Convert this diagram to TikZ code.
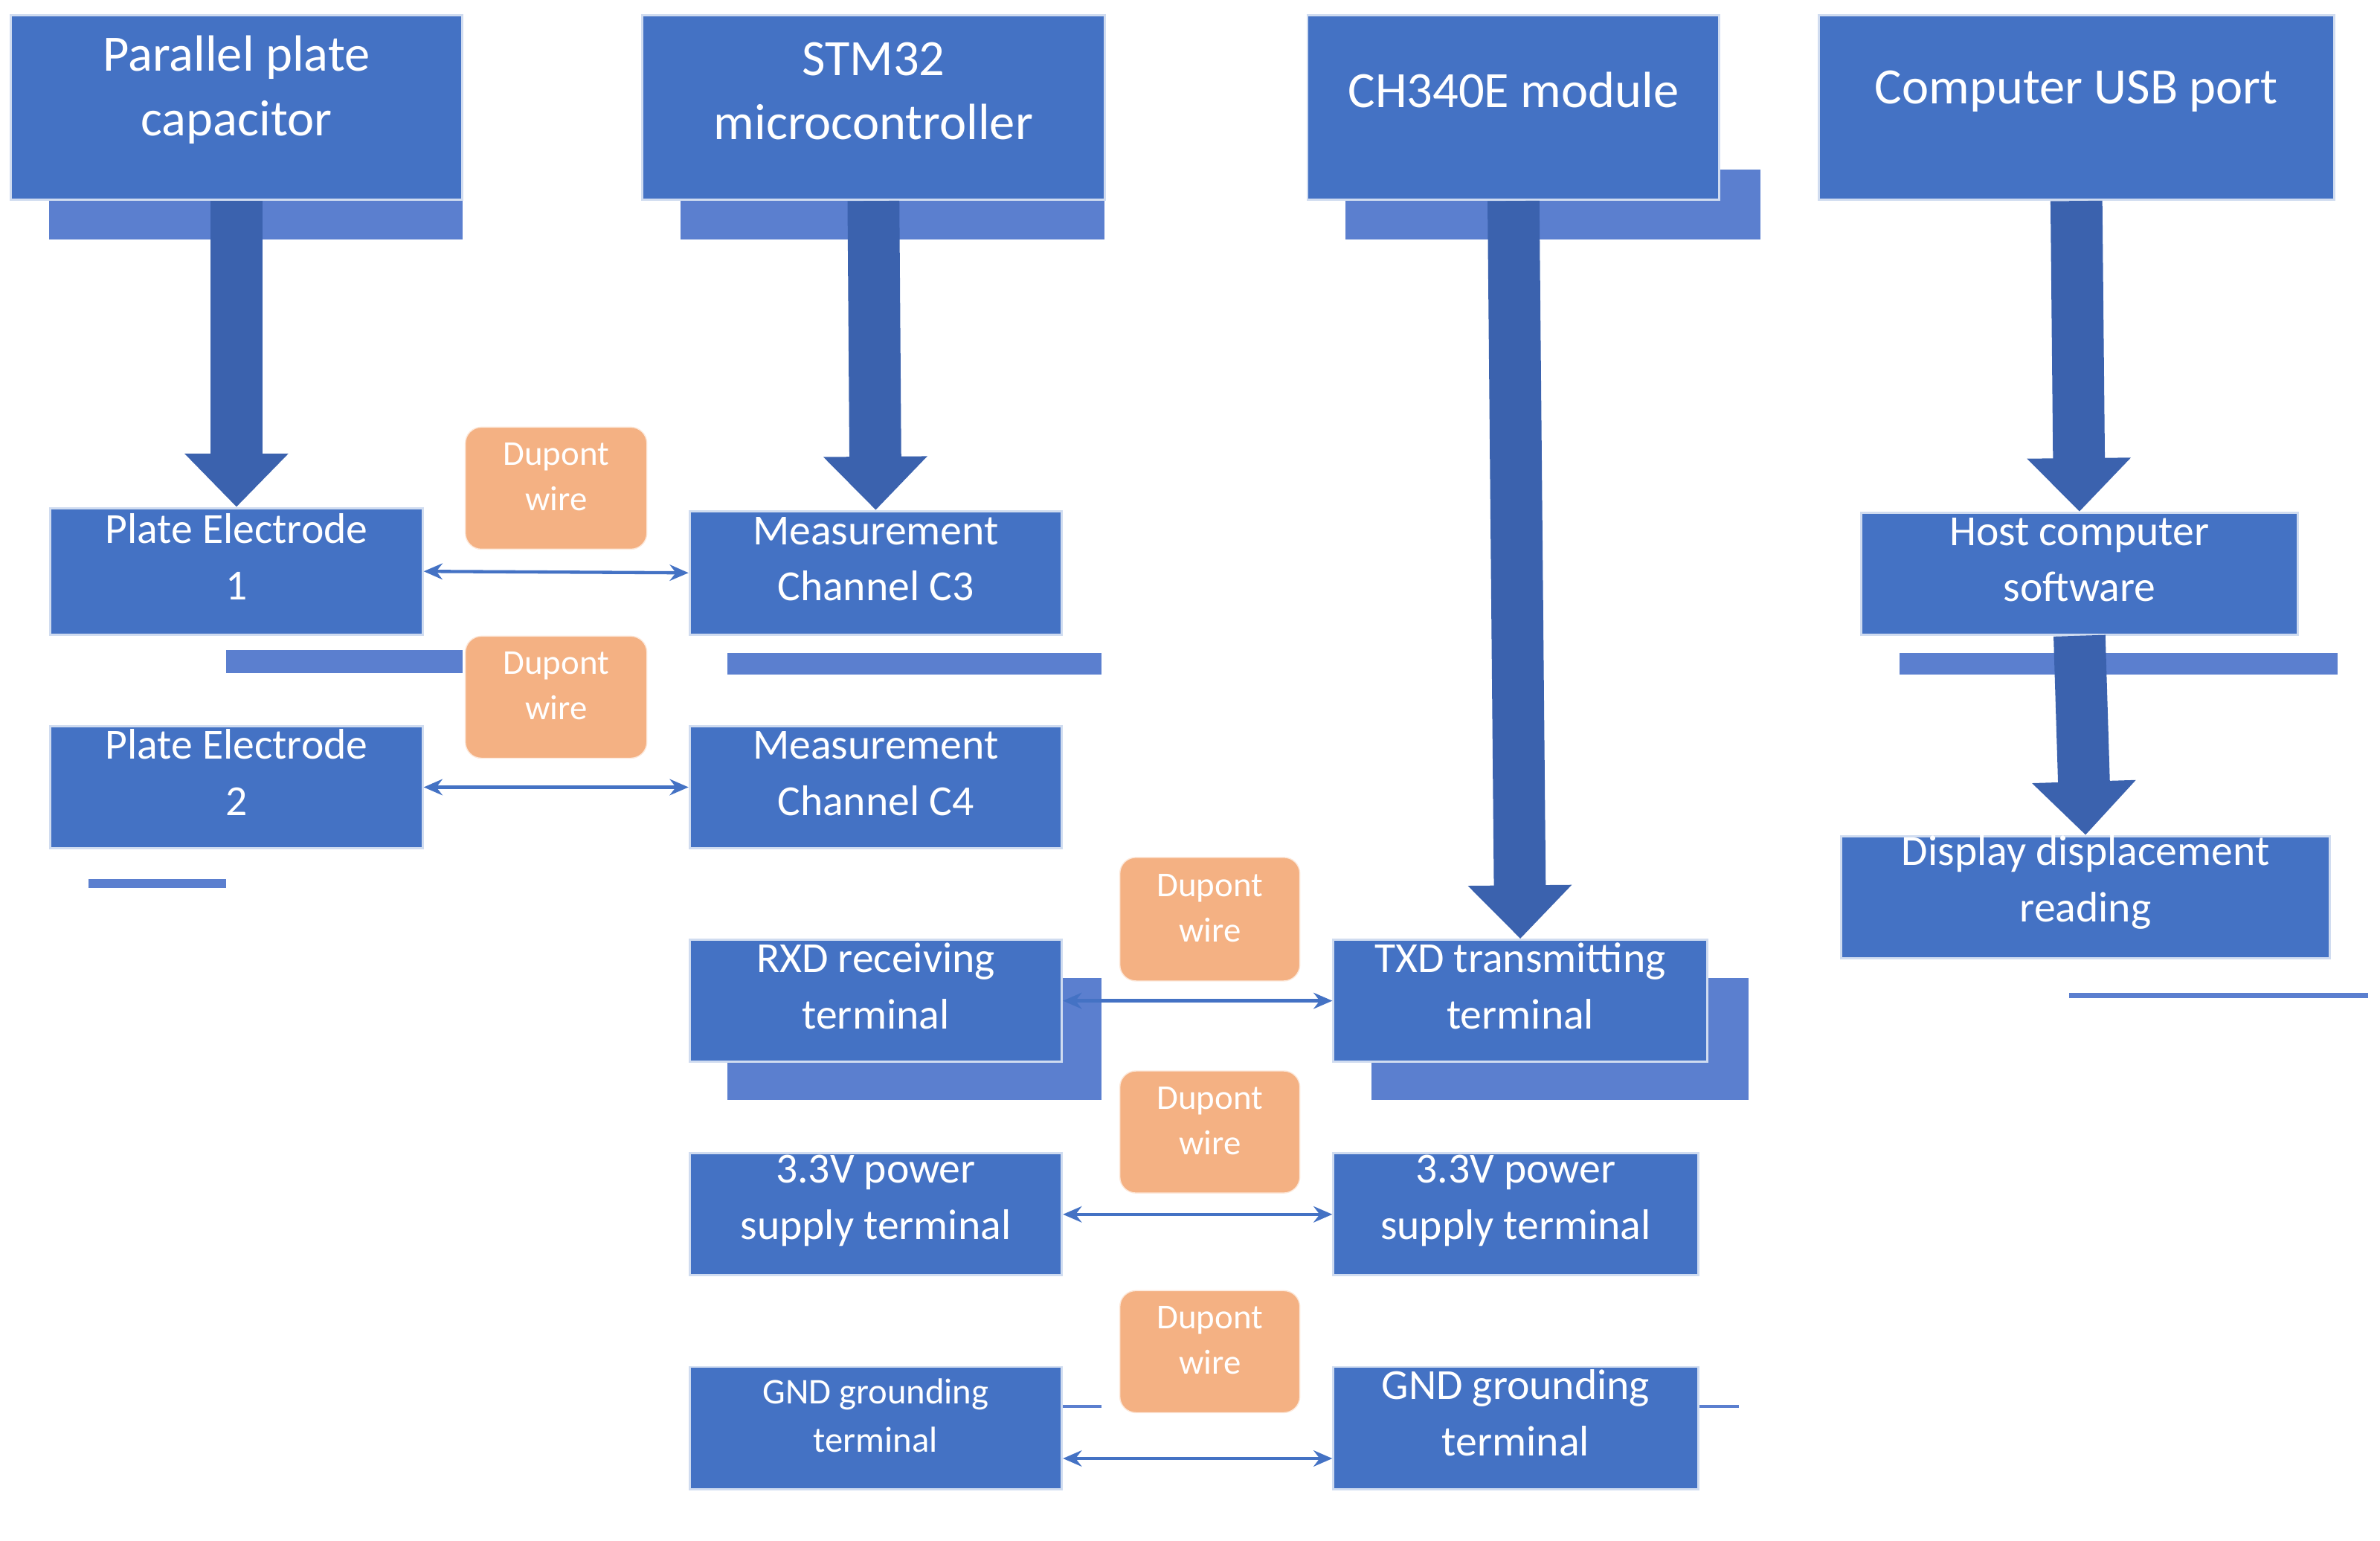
\documentclass[tikz,border=0pt]{standalone}
\usepackage{fontspec}
\setmainfont{Carlito}
\usetikzlibrary{fit,arrows.meta}
\definecolor{boxblue}{HTML}{4472C4}
\definecolor{shadeblue}{HTML}{5B7FCF}
\definecolor{arrblue}{HTML}{3B62AE}
\definecolor{dupont}{HTML}{F4B183}
\begin{document}
\begin{tikzpicture}[x=0.02cm,y=-0.02cm,
  box/.style={fill=boxblue,draw=white!75!boxblue,line width=0.8pt,inner sep=0pt,text=white,align=center},
  big/.style={box,font=\fontsize{19}{24}\selectfont},
  small/.style={box,font=\fontsize{16}{21}\selectfont},
  shade/.style={fill=shadeblue},
  wire/.style={fill=dupont,draw=white!70!dupont,rounded corners=6pt,inner sep=0pt,text=white,align=center,font=\fontsize{13}{17}\selectfont},
  fat/.style={draw=arrblue,line width=0.68cm,-{Triangle[width=1.32cm,length=0.7cm]}},
  link/.style={draw=boxblue,line width=1.2pt,{Stealth[length=7pt,width=6pt]}-{Stealth[length=7pt,width=6pt]}}]
\useasboundingbox (0,0) rectangle (1560,1010);
% shadow strips
\fill[shade] (32,131) rectangle (303,157);
\fill[shade] (446,131) rectangle (724,157);
\fill[shade] (882,111) rectangle (1154,157);
\fill[shade] (148,426) rectangle (303,441);
\fill[shade] (477,428) rectangle (722,442);
\fill[shade] (58,576) rectangle (148,582);
\fill[shade] (1245,428) rectangle (1532,442);
\fill[shade] (1356,651) rectangle (1552,654);
\fill[shade] (477,641) rectangle (722,721);
\fill[shade] (899,641) rectangle (1146,721);
\fill[shade] (696,921) rectangle (722,923);
\fill[shade] (1113,921) rectangle (1140,923);
% top boxes
\node[big,fit={(7,10)(303,131)}] (cap) {Parallel plate\\capacitor};
\node[big,fit={(421,10)(724,131)}] (stm) {STM32\\microcontroller};
\node[big,fit={(857,10)(1127,131)}] (ch) {CH340E module};
\node[big,fit={(1192,10)(1530,131)}] (usb) {Computer USB port};
% lower boxes
\node[small,fit={(33,333)(277,416)}] (pe1) {Plate Electrode\\1};
\node[small,fit={(452,335)(696,416)}] (c3) {Measurement\\Channel C3};
\node[small,fit={(33,476)(277,556)}] (pe2) {Plate Electrode\\2};
\node[small,fit={(452,476)(696,556)}] (c4) {Measurement\\Channel C4};
\node[small,fit={(1220,336)(1506,416)}] (host) {Host computer\\software};
\node[small,fit={(1207,548)(1527,628)}] (disp) {Display displacement\\reading};
\node[small,fit={(452,616)(696,696)}] (rxd) {RXD receiving\\terminal};
\node[small,fit={(874,616)(1119,696)}] (txd) {TXD transmitting\\terminal};
\node[small,fit={(452,756)(696,836)}] (pl) {3.3V power\\supply terminal};
\node[small,fit={(874,756)(1113,836)}] (pr) {3.3V power\\supply terminal};
\node[box,fit={(452,896)(696,976)},font=\fontsize{13.5}{18}\selectfont] (gl) {GND grounding\\terminal};
\node[small,fit={(874,896)(1113,976)}] (gr) {GND grounding\\terminal};
% dupont labels
\node[wire,fit={(305,280)(424,360)}] (w1) {Dupont\\wire};
\node[wire,fit={(305,417)(424,497)}] (w2) {Dupont\\wire};
\node[wire,fit={(734,562)(852,643)}] (w3) {Dupont\\wire};
\node[wire,fit={(734,702)(852,782)}] (w4) {Dupont\\wire};
\node[wire,fit={(734,846)(852,926)}] (w5) {Dupont\\wire};
% big arrows
\draw[fat] (cap.south) -- (pe1.north);
\draw[fat] (stm.south) -- (c3.north);
\draw[fat] (ch.south) -- (txd.north);
\draw[fat] (usb.south) -- (host.north);
\draw[fat] (host.south) -- (disp.north);
% wires
\draw[link] (pe1.east) -- (c3.west);
\draw[link] (pe2.east) -- (c4.west);
\draw[link] (rxd.east) -- (txd.west);
\draw[link] (pl.east) -- (pr.west);
\draw[link] ([yshift=-0.4cm]gl.east) -- ([yshift=-0.4cm]gr.west);
\end{tikzpicture}
\end{document}
